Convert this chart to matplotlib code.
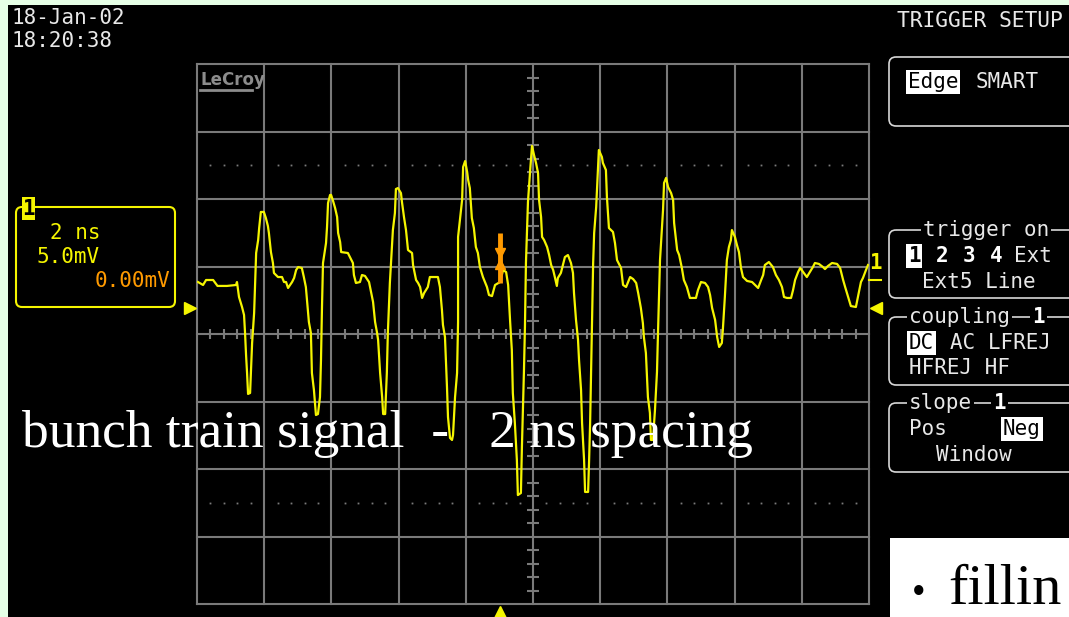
"""LeCroy scope screen: bunch train signal, 2 ns spacing."""

import matplotlib

matplotlib.use("Agg")  # headless backend, no display needed
import matplotlib.pyplot as plt  # noqa: E402
import matplotlib.transforms as mtrans  # noqa: E402
import numpy as np  # noqa: E402
from matplotlib.patches import FancyBboxPatch, Rectangle  # noqa: E402

W, H = 1069, 617

# trace: time in ns, amplitude in mV (0 = screen centre)
t_ns = [
    -9.97, -9.82, -9.73, -9.52, -9.39, -9.11, -8.84, -8.81, -8.75, -8.66,
    -8.60, -8.57, -8.54, -8.51, -8.48, -8.42, -8.36, -8.30, -8.24, -8.18,
    -8.15, -8.10, -8.01, -7.95, -7.89, -7.86, -7.80, -7.74, -7.71, -7.59,
    -7.47, -7.41, -7.35, -7.29, -7.17, -7.11, -7.05, -6.99, -6.88, -6.82,
    -6.76, -6.70, -6.67, -6.61, -6.58, -6.52, -6.46, -6.40, -6.34, -6.31,
    -6.28, -6.25, -6.16, -6.13, -6.10, -6.04, -6.01, -5.95, -5.89, -5.83,
    -5.80, -5.74, -5.71, -5.51, -5.45, -5.36, -5.33, -5.27, -5.15, -5.09,
    -5.00, -4.88, -4.82, -4.76, -4.70, -4.64, -4.61, -4.55, -4.49, -4.46,
    -4.40, -4.35, -4.32, -4.26, -4.20, -4.17, -4.11, -4.08, -4.02, -3.93,
    -3.90, -3.84, -3.78, -3.72, -3.60, -3.57, -3.48, -3.42, -3.36, -3.30,
    -3.24, -3.13, -3.07, -2.83, -2.77, -2.71, -2.68, -2.62, -2.56, -2.53,
    -2.47, -2.41, -2.38, -2.32, -2.26, -2.23, -2.23, -2.17, -2.11, -2.08,
    -2.02, -1.96, -1.93, -1.88, -1.82, -1.76, -1.70, -1.64, -1.58, -1.49,
    -1.37, -1.31, -1.22, -1.13, -0.98, -0.89, -0.80, -0.74, -0.68, -0.63,
    -0.60, -0.54, -0.48, -0.45, -0.36, -0.33, -0.27, -0.24, -0.21, -0.18,
    -0.15, -0.09, -0.03, 0.03, 0.09, 0.15, 0.18, 0.24, 0.27, 0.33,
    0.42, 0.48, 0.54, 0.60, 0.65, 0.71, 0.74, 0.83, 0.89, 0.95,
    1.04, 1.13, 1.19, 1.22, 1.28, 1.34, 1.37, 1.43, 1.46, 1.52,
    1.55, 1.64, 1.67, 1.70, 1.73, 1.76, 1.79, 1.82, 1.88, 1.93,
    1.96, 2.05, 2.08, 2.17, 2.20, 2.26, 2.38, 2.44, 2.50, 2.62,
    2.68, 2.77, 2.89, 2.98, 3.07, 3.13, 3.21, 3.27, 3.30, 3.36,
    3.42, 3.48, 3.51, 3.57, 3.63, 3.69, 3.72, 3.78, 3.84, 3.87,
    3.90, 3.96, 4.02, 4.11, 4.17, 4.20, 4.29, 4.35, 4.43, 4.49,
    4.58, 4.67, 4.85, 4.91, 5.00, 5.12, 5.21, 5.27, 5.33, 5.42,
    5.48, 5.54, 5.62, 5.65, 5.71, 5.77, 5.83, 5.89, 5.92, 6.01,
    6.07, 6.13, 6.19, 6.25, 6.37, 6.52, 6.61, 6.70, 6.79, 6.85,
    6.90, 7.02, 7.14, 7.23, 7.32, 7.41, 7.47, 7.56, 7.68, 7.74,
    7.80, 7.89, 7.95, 8.04, 8.15, 8.24, 8.33, 8.39, 8.51, 8.63,
    8.69, 8.78, 8.90, 9.05, 9.14, 9.23, 9.29, 9.38, 9.46, 9.61,
    9.67, 9.76, 9.82, 9.91, 9.97,
]
v_mv = [
    3.85, 3.63, 4.00, 4.00, 3.56, 3.56, 3.63, 3.85, 2.74, 2.00,
    1.41, 0.07, -1.56, -2.89, -4.44, -4.37, -0.67, 1.56, 6.00, 6.96,
    7.85, 9.04, 9.04, 8.59, 8.00, 7.48, 6.07, 5.26, 4.52, 4.22,
    4.22, 3.85, 3.85, 3.41, 3.85, 4.15, 4.74, 4.96, 4.89, 4.22,
    3.48, 1.78, 0.89, 0.07, -2.89, -4.15, -6.00, -5.93, -4.67, -1.93,
    2.00, 5.26, 6.74, 7.93, 9.70, 10.30, 10.30, 9.85, 9.33, 8.67,
    7.48, 6.81, 6.07, 6.00, 5.70, 5.26, 4.37, 3.78, 3.85, 4.37,
    4.30, 3.85, 3.11, 2.37, 0.89, 0.07, -0.44, -2.89, -4.67, -5.93,
    -5.93, -2.89, 0.07, 3.78, 6.44, 7.70, 8.96, 10.74, 10.81, 10.44,
    9.78, 8.67, 7.70, 6.22, 6.00, 5.11, 4.00, 3.78, 3.48, 2.67,
    3.04, 3.48, 4.22, 4.22, 3.48, 1.78, 0.67, -0.22, -3.93, -6.15,
    -7.70, -7.85, -7.48, -4.67, -2.89, 0.89, 7.19, 8.59, 9.93, 12.37,
    12.81, 12.00, 11.41, 10.81, 8.59, 7.85, 6.44, 6.00, 4.96, 4.22,
    3.48, 2.89, 2.81, 3.63, 3.85, 4.74, 4.59, 3.63, 0.89, -1.19,
    -4.37, -6.59, -9.33, -11.93, -11.78, -8.37, -2.81, 0.52, 5.26, 7.48,
    9.78, 11.93, 13.93, 13.26, 12.67, 11.93, 9.93, 8.67, 7.19, 6.96,
    6.44, 5.85, 5.11, 4.74, 4.22, 3.56, 4.15, 4.52, 5.11, 5.70,
    5.85, 5.26, 4.52, 3.04, 1.04, -0.44, -1.93, -4.15, -6.59, -9.33,
    -11.70, -11.70, -9.33, -6.59, -2.67, 1.56, 5.26, 7.48, 9.41, 12.15,
    13.63, 13.11, 12.67, 12.15, 10.15, 7.85, 7.56, 6.74, 5.48, 4.89,
    3.63, 3.48, 4.22, 4.07, 3.78, 3.04, 1.93, 0.81, -0.22, -1.41,
    -4.67, -5.85, -7.85, -7.85, -5.63, -2.81, 0.07, 5.48, 7.93, 9.19,
    11.19, 11.56, 10.89, 10.44, 9.93, 8.22, 6.22, 5.85, 4.89, 4.00,
    3.48, 2.67, 2.67, 3.26, 3.85, 3.78, 3.48, 2.89, 1.93, 1.04,
    -0.22, -0.96, -0.67, 0.30, 2.74, 5.48, 6.44, 6.96, 7.70, 7.19,
    6.59, 6.07, 4.89, 4.22, 3.93, 3.85, 3.63, 3.41, 4.00, 4.37,
    5.11, 5.33, 4.96, 4.37, 4.00, 3.48, 2.74, 2.67, 2.67, 3.26,
    4.00, 4.59, 4.89, 4.59, 4.22, 4.59, 4.96, 5.26, 5.19, 4.96,
    4.81, 5.04, 5.26, 5.19, 4.89, 4.00, 3.48, 2.74, 2.07, 2.00,
    2.74, 3.85, 4.15, 4.74, 5.11,
]

ns_per_div = 2
mv_per_div = 5
n_xdiv, n_ydiv = 10, 8
ground_mv = 1.93
trig_time_ns = -0.98
trig_level_mv = 5.6

date_lines = ["18-Jan-02", "18:20:38"]
chan_labels = ["2 ns", "5.0mV", "0.00mV"]
caption = "bunch train signal  -   2 ns spacing"

YEL = "#f5f500"
ORANGE = "#ff9a00"
GRID = "#7a7a7a"
GREEN = "#e6ffe6"
PANEL = "#d8d8d8"
MONO = "DejaVu Sans Mono"

fig = plt.figure(figsize=(W / 100, H / 100), dpi=100, facecolor="black")

# ---- scope graticule ----
ax = fig.add_axes([197 / W, (H - 604) / H, 672 / W, 540 / H], facecolor="black")
xmax = n_xdiv / 2 * ns_per_div
ymax = n_ydiv / 2 * mv_per_div
ax.set_xlim(-xmax, xmax)
ax.set_ylim(-ymax, ymax)
ax.axis("off")

for x in np.arange(-xmax, xmax + 0.01, ns_per_div):
    ax.axvline(x, color=GRID, lw=1.5, clip_on=False, zorder=1)
for y in np.arange(-ymax, ymax + 0.01, mv_per_div):
    ax.axhline(y, color=GRID, lw=1.5, clip_on=False, zorder=1)

minor_x = np.arange(-xmax, xmax + 0.01, ns_per_div / 5)
minor_x = minor_x[np.abs(np.round(minor_x / ns_per_div) * ns_per_div - minor_x) > 1e-6]
minor_y = np.arange(-ymax, ymax + 0.01, mv_per_div / 5)
minor_y = minor_y[np.abs(np.round(minor_y / mv_per_div) * mv_per_div - minor_y) > 1e-6]
ax.vlines(minor_x, -0.37, 0.37, color=GRID, lw=1.5, zorder=1)
ax.hlines(minor_y, -0.19, 0.19, color=GRID, lw=1.5, zorder=1)
for yd in (2.5 * mv_per_div, -2.5 * mv_per_div):
    ax.plot(minor_x, [yd] * len(minor_x), ls="none", marker="s", ms=1.3,
            mew=0, color=GRID, zorder=1)

ax.plot(t_ns, v_mv, color=YEL, lw=1.6, zorder=3)

# ground / trigger markers
left = mtrans.offset_copy(ax.transData, fig, x=-7, y=0, units="dots")
right = mtrans.offset_copy(ax.transData, fig, x=7, y=0, units="dots")
below = mtrans.offset_copy(ax.transData, fig, x=0, y=-8, units="dots")
ax.plot([-xmax], [ground_mv], marker=">", ms=8, color=YEL, transform=left, clip_on=False)
ax.plot([xmax], [ground_mv], marker="<", ms=8, color=YEL, transform=right, clip_on=False)
ax.plot([trig_time_ns], [-ymax], marker="^", ms=8, color=YEL, transform=below, clip_on=False)
ax.plot([trig_time_ns] * 2, [trig_level_mv - 1.85, trig_level_mv + 1.85],
        color=ORANGE, lw=3.5, solid_capstyle="butt", zorder=4)
ax.plot([trig_time_ns], [trig_level_mv + 0.4], marker="v", ms=7, color=ORANGE, zorder=4)
ax.plot([trig_time_ns], [trig_level_mv - 0.4], marker="^", ms=7, color=ORANGE, zorder=4)

# ---- overlay in pixel units for the screen furniture ----
ov = fig.add_axes([0, 0, 1, 1], facecolor="none")
ov.set_xlim(0, W)
ov.set_ylim(H, 0)
ov.axis("off")
ov.set_zorder(5)

ov.add_patch(Rectangle((0, 0), W, 5, color=GREEN, lw=0))
ov.add_patch(Rectangle((0, 0), 8, H, color=GREEN, lw=0))

for i, s in enumerate(date_lines):
    ov.text(12, 18 + 23 * i, s, color="#e8e8e8", family=MONO, fontsize=15, va="center")

ov.text(200, 80, "LeCroy", color="#8c8c8c", family="DejaVu Sans", fontsize=12,
        fontweight="bold", va="center")
ov.plot([200, 252], [90, 90], color="#8c8c8c", lw=2)

# channel box
ov.add_patch(FancyBboxPatch((16, 207), 159, 100, boxstyle="round,pad=0,rounding_size=6",
                            fc="none", ec=YEL, lw=1.5))
ov.add_patch(Rectangle((22, 197), 13, 23, color=YEL, lw=0))
ov.text(28.5, 209, "1", color="black", family=MONO, fontsize=15, fontweight="bold",
        ha="center", va="center")
ov.text(50, 233, chan_labels[0], color=YEL, family=MONO, fontsize=15, va="center")
ov.text(36, 257, chan_labels[1], color=YEL, family=MONO, fontsize=15, va="center")
ov.text(170, 281, chan_labels[2], color=ORANGE, family=MONO, fontsize=15, va="center", ha="right")

ov.text(875, 263, "1", color=YEL, family=MONO, fontsize=15, fontweight="bold",
        ha="center", va="center")
ov.plot([869, 881], [280, 280], color=YEL, lw=1.5)

# ---- trigger menu ----
ov.text(897, 21, "TRIGGER SETUP", color="#e8e8e8", family=MONO, fontsize=15.3, va="center")

hi = dict(boxstyle="square,pad=0.08", fc="white", ec="none")


def menu_box(y0, y1, title=None, tx=909, bold=None, bx=None):
    ov.add_patch(FancyBboxPatch((889, y0), 220, y1 - y0,
                                boxstyle="round,pad=0,rounding_size=7",
                                fc="none", ec=PANEL, lw=1.2, clip_on=False))
    if title:
        ov.text(tx, y0, title, color="#e8e8e8", family=MONO, fontsize=15, va="center",
                bbox=dict(boxstyle="square,pad=0.1", fc="black", ec="none"))
    if bold:
        ov.text(bx, y0, bold, color="white", family=MONO, fontsize=15, va="center",
                fontweight="bold", bbox=dict(boxstyle="square,pad=0.1", fc="black", ec="none"))


menu_box(57, 126)
ov.text(908, 82, "Edge", color="black", family=MONO, fontsize=15, va="center", bbox=hi)
ov.text(976, 82, "SMART", color="#e8e8e8", family=MONO, fontsize=15, va="center")

menu_box(230, 298, "trigger on", tx=923)
ov.text(908, 256, "1", color="black", family=MONO, fontsize=15, va="center",
        fontweight="bold", bbox=hi)
for x, s in zip([936, 963, 990], ["2", "3", "4"]):
    ov.text(x, 256, s, color="white", family=MONO, fontsize=15, va="center", fontweight="bold")
ov.text(1014, 256, "Ext", color="#e8e8e8", family=MONO, fontsize=15, va="center")
ov.text(922, 282, "Ext5 Line", color="#e8e8e8", family=MONO, fontsize=15, va="center")

menu_box(317, 385, "coupling", bold="1", bx=1032)
ov.text(909, 343, "DC", color="black", family=MONO, fontsize=15, va="center", bbox=hi)
ov.text(950, 343, "AC LFREJ", color="#e8e8e8", family=MONO, fontsize=15, va="center")
ov.text(909, 368, "HFREJ HF", color="#e8e8e8", family=MONO, fontsize=15, va="center")

menu_box(403, 472, "slope", bold="1", bx=993)
ov.text(909, 429, "Pos", color="#e8e8e8", family=MONO, fontsize=15, va="center")
ov.text(1003, 429, "Neg", color="black", family=MONO, fontsize=15, va="center", bbox=hi)
ov.text(936, 455, "Window", color="#e8e8e8", family=MONO, fontsize=15, va="center")

# ---- slide overlays ----
ov.text(22, 447, caption, color="white", family="Liberation Serif", fontsize=38.4,
        va="baseline")
ov.add_patch(Rectangle((890, 538), 200, 100, color="white", lw=0, clip_on=False))
ov.text(912, 604, "\u2022", color="black", family="Liberation Serif", fontsize=28,
        va="baseline")
ov.text(948, 604, "fillin", color="black", family="Liberation Serif", fontsize=42,
        va="baseline")

fig.savefig("out.png", dpi=100, facecolor="black")
plt.close(fig)
